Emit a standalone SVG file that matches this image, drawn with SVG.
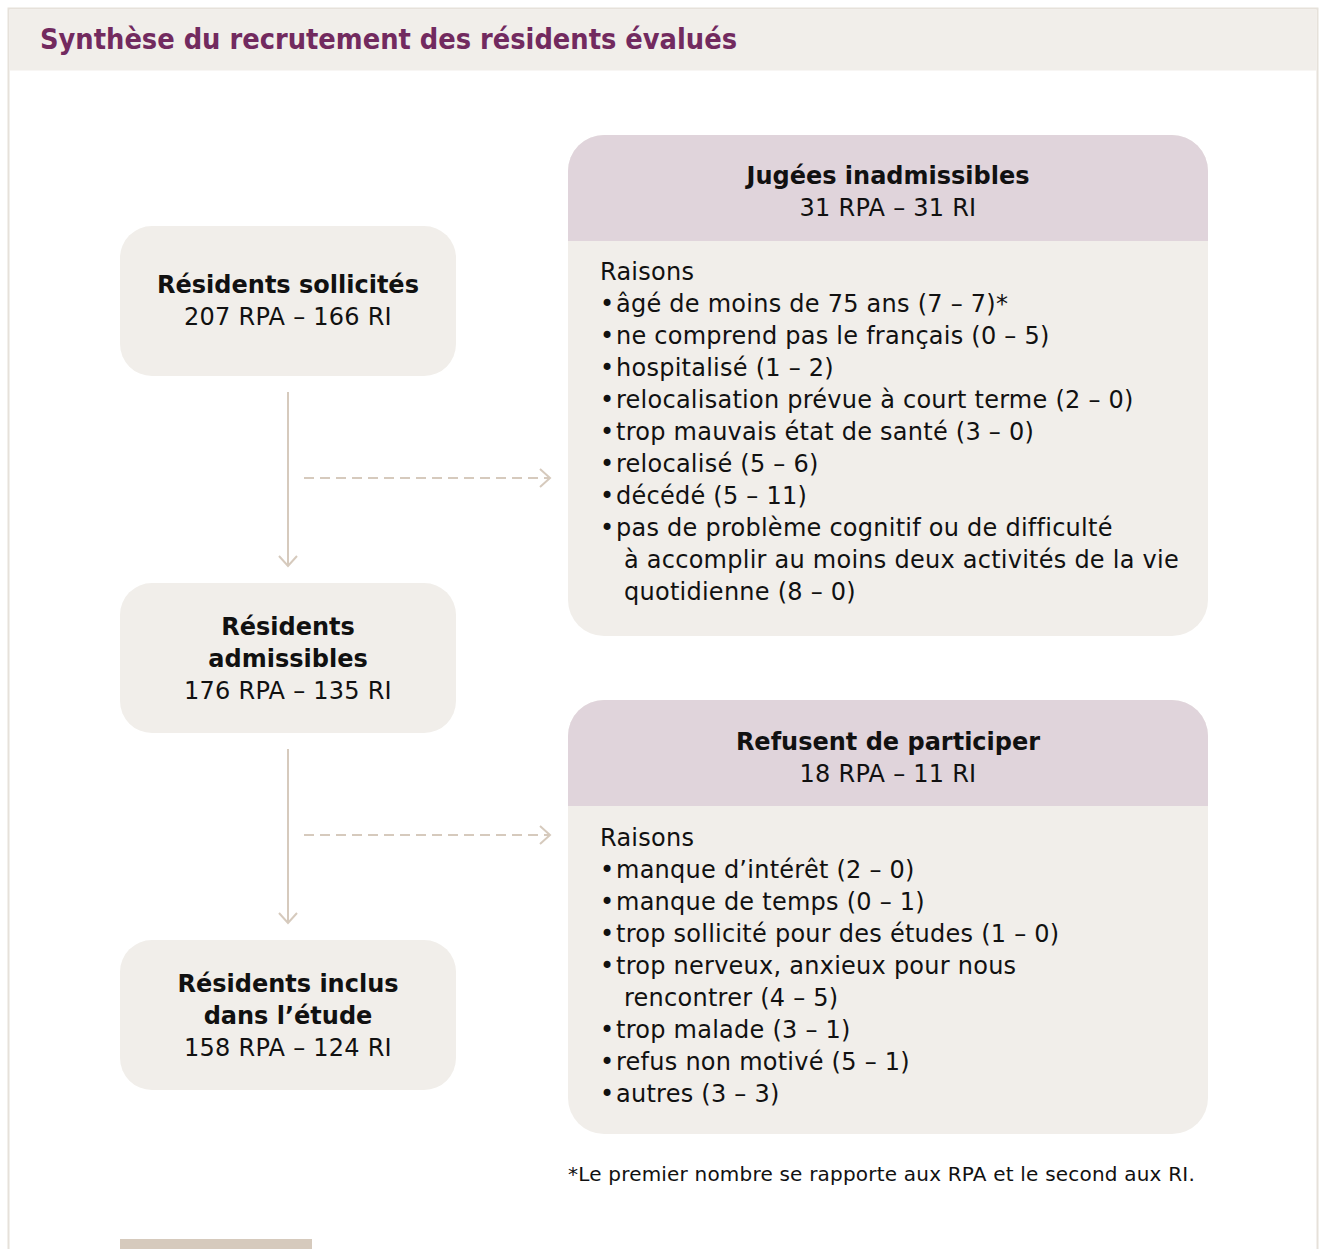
<svg xmlns="http://www.w3.org/2000/svg" width="1319" height="1249" viewBox="0 0 1319 1249">
<defs>
<style>
.t{font-family:"DejaVu Sans",Verdana,sans-serif;font-size:24px;fill:#111;letter-spacing:0.25px}
.b{font-weight:bold;letter-spacing:0}
.m{text-anchor:middle}
.node{fill:#f1eeea}
.head{fill:#e0d4db}
.con{stroke:#d6cabd;stroke-width:2;fill:none}
.dash{stroke-dasharray:10 6}
</style>
<marker id="chev" markerWidth="20" markerHeight="20" refX="12" refY="10" orient="auto" markerUnits="userSpaceOnUse">
<path d="M2,1 L12,10 L2,19" fill="none" stroke="#d6cabd" stroke-width="2"/>
</marker>
</defs>
<rect width="1319" height="1249" fill="#fff"/>
<g id="frame">
<rect x="8.5" y="8.5" width="1309" height="1260" fill="none" stroke="#e6e1da" stroke-width="2"/>
<rect x="9.5" y="9.5" width="1307" height="61" fill="#f1eeea"/>
<text x="40" y="49" font-family="'DejaVu Sans Condensed','DejaVu Sans',sans-serif" font-weight="bold" font-size="29" fill="#722a5f" textLength="697" lengthAdjust="spacingAndGlyphs">Synthèse du recrutement des résidents évalués</text>
</g>
<g id="connectors">
<line class="con" x1="288" y1="392" x2="288" y2="566" marker-end="url(#chev)"/>
<line class="con dash" x1="304" y1="478" x2="550" y2="478" marker-end="url(#chev)"/>
<line class="con" x1="288" y1="749" x2="288" y2="923" marker-end="url(#chev)"/>
<line class="con dash" x1="304" y1="835" x2="550" y2="835" marker-end="url(#chev)"/>
</g>
<g id="n1">
<rect class="node" x="120" y="226" width="336" height="150" rx="32"/>
<text class="t b m" x="288" y="293">Résidents sollicités</text>
<text class="t m" x="288" y="325">207 RPA – 166 RI</text>
</g>
<g id="n2">
<rect class="node" x="120" y="583" width="336" height="150" rx="32"/>
<text class="t b m" x="288" y="635">Résidents</text>
<text class="t b m" x="288" y="667">admissibles</text>
<text class="t m" x="288" y="699">176 RPA – 135 RI</text>
</g>
<g id="n3">
<rect class="node" x="120" y="940" width="336" height="150" rx="32"/>
<text class="t b m" x="288" y="992">Résidents inclus</text>
<text class="t b m" x="288" y="1024">dans l’étude</text>
<text class="t m" x="288" y="1056">158 RPA – 124 RI</text>
</g>
<g id="r1">
<rect class="node" x="568" y="135" width="640" height="501" rx="36"/>
<path class="head" d="M568,241 V171 A36,36 0 0 1 604,135 H1172 A36,36 0 0 1 1208,171 V241 Z"/>
<text class="t b m" x="888" y="184">Jugées inadmissibles</text>
<text class="t m" x="888" y="216">31 RPA – 31 RI</text>
<text class="t" x="600" y="280">Raisons</text>
<text class="t" x="600" y="312">•</text><text class="t" x="616" y="312">âgé de moins de 75 ans (7 – 7)*</text>
<text class="t" x="600" y="344">•</text><text class="t" x="616" y="344">ne comprend pas le français (0 – 5)</text>
<text class="t" x="600" y="376">•</text><text class="t" x="616" y="376">hospitalisé (1 – 2)</text>
<text class="t" x="600" y="408">•</text><text class="t" x="616" y="408">relocalisation prévue à court terme (2 – 0)</text>
<text class="t" x="600" y="440">•</text><text class="t" x="616" y="440">trop mauvais état de santé (3 – 0)</text>
<text class="t" x="600" y="472">•</text><text class="t" x="616" y="472">relocalisé (5 – 6)</text>
<text class="t" x="600" y="504">•</text><text class="t" x="616" y="504">décédé (5 – 11)</text>
<text class="t" x="600" y="536">•</text><text class="t" x="616" y="536">pas de problème cognitif ou de difficulté</text>
<text class="t" x="624" y="568">à accomplir au moins deux activités de la vie</text>
<text class="t" x="624" y="600">quotidienne (8 – 0)</text>
</g>
<g id="r2">
<rect class="node" x="568" y="700" width="640" height="434" rx="36"/>
<path class="head" d="M568,806 V736 A36,36 0 0 1 604,700 H1172 A36,36 0 0 1 1208,736 V806 Z"/>
<text class="t b m" x="888" y="750">Refusent de participer</text>
<text class="t m" x="888" y="782">18 RPA – 11 RI</text>
<text class="t" x="600" y="846">Raisons</text>
<text class="t" x="600" y="878">•</text><text class="t" x="616" y="878">manque d’intérêt (2 – 0)</text>
<text class="t" x="600" y="910">•</text><text class="t" x="616" y="910">manque de temps (0 – 1)</text>
<text class="t" x="600" y="942">•</text><text class="t" x="616" y="942">trop sollicité pour des études (1 – 0)</text>
<text class="t" x="600" y="974">•</text><text class="t" x="616" y="974">trop nerveux, anxieux pour nous</text>
<text class="t" x="624" y="1006">rencontrer (4 – 5)</text>
<text class="t" x="600" y="1038">•</text><text class="t" x="616" y="1038">trop malade (3 – 1)</text>
<text class="t" x="600" y="1070">•</text><text class="t" x="616" y="1070">refus non motivé (5 – 1)</text>
<text class="t" x="600" y="1102">•</text><text class="t" x="616" y="1102">autres (3 – 3)</text>
</g>
<g id="footnote">
<text class="t" x="568" y="1181" style="font-size:20px;letter-spacing:0.2px">*Le premier nombre se rapporte aux RPA et le second aux RI.</text>
</g>
<g id="tab">
<rect x="120" y="1239" width="192" height="12" fill="#d6cabd"/>
</g>
</svg>
